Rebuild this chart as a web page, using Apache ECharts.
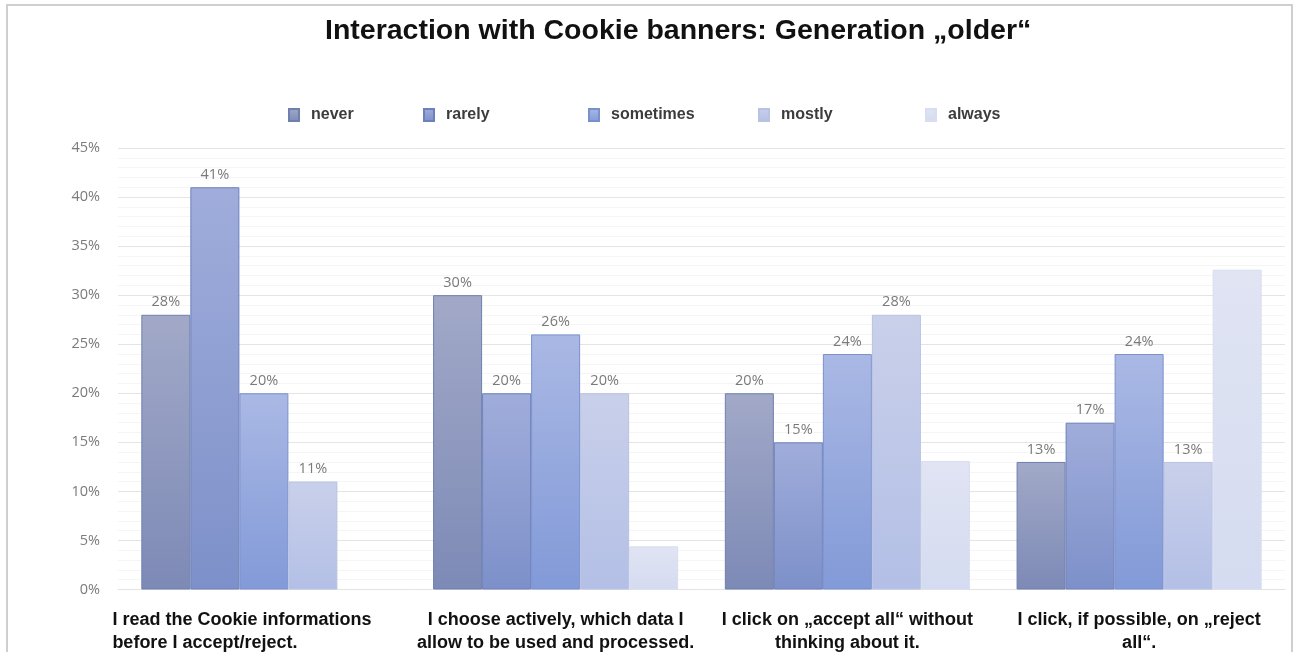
<!DOCTYPE html>
<html>
<head>
<meta charset="utf-8">
<style>
  html, body { margin: 0; padding: 0; background: #ffffff; }
  #chart { width: 1294px; height: 652px; }
</style>
<script src="https://cdn.jsdelivr.net/npm/echarts@6/dist/echarts.min.js"></script>
</head>
<body>
<div id="chart"></div>
<script>
// Statements shown under each group of bars
const categories = [
  'I read the Cookie informations\nbefore I accept/reject.',
  'I choose actively, which data I\nallow to be used and processed.',
  'I click on \u201Eaccept all\u201C without\nthinking about it.',
  'I click, if possible, on \u201Ereject\nall\u201C.'
];

// Answer frequencies (percent of respondents)
const seriesNames = ['never', 'rarely', 'sometimes', 'mostly', 'always'];
const neverVals     = [28, 30, 20, 13];
const rarelyVals    = [41, 20, 15, 17];
const sometimesVals = [20, 26, 24, 24];
const mostlyVals    = [11, 20, 28, 13];
const alwaysVals    = [null, 4.4, 13.1, 32.6];

const yTicks = [0, 5, 10, 15, 20, 25, 30, 35, 40, 45];

// Bar fills: lighter, greyer at the top, more saturated at the base
const fills = [
  { top: '#a2a9c8', bottom: '#7d8ab6', border: '#6f7fae' },
  { top: '#a0addb', bottom: '#7d90c9', border: '#6d80bb' },
  { top: '#aab8e4', bottom: '#829ad8', border: '#7a90cc' },
  { top: '#c9d0ea', bottom: '#b3bfe6', border: '#b8c2e2' },
  { top: '#e0e4f3', bottom: '#d5dbf0', border: '#d8def0' }
];
const valueSets = [neverVals, rarelyVals, sometimesVals, mostlyVals, alwaysVals];
const showLabels = [true, true, true, true, false];

function grad(f) {
  return new echarts.graphic.LinearGradient(0, 0, 0, 1, [
    { offset: 0, color: f.top },
    { offset: 1, color: f.bottom }
  ]);
}

const series = seriesNames.map((name, i) => ({
  name: name,
  type: 'bar',
  data: valueSets[i],
  barGap: '0%',
  barCategoryGap: '16%',
  itemStyle: {
    color: grad(fills[i]),
    borderColor: fills[i].border,
    borderWidth: 1
  },
  label: {
    show: showLabels[i],
    position: 'top',
    distance: 5,
    color: '#7a7a7a',
    fontFamily: 'Open Sans',
    fontSize: 14.5,
    formatter: p => Math.round(p.value) + '%'
  },
  emphasis: { disabled: true }
}));

// One legend block per series so each entry sits at its own column
const legendLefts = [283, 418, 583, 753, 920];
const legends = seriesNames.map((name, i) => ({
  data: [name],
  left: legendLefts[i],
  top: 102,
  icon: 'rect',
  itemWidth: 10,
  itemHeight: 12,
  selectedMode: false,
  textStyle: {
    color: '#3c3c3c',
    fontFamily: 'Liberation Sans',
    fontWeight: 'bold',
    fontSize: 16,
    padding: [0, 0, 0, 7]
  }
}));

const chart = echarts.init(document.getElementById('chart'), null, { renderer: 'canvas' });

chart.setOption({
  backgroundColor: '#ffffff',
  animation: false,
  title: {
    text: 'Interaction with Cookie banners: Generation \u201Eolder\u201C',
    left: 320,
    top: 12,
    textStyle: {
      fontFamily: 'Liberation Sans',
      fontWeight: 'bold',
      fontSize: 28.5,
      color: '#111111'
    }
  },
  legend: legends,
  grid: { left: 118, right: 9, top: 148, bottom: 61 },
  xAxis: {
    type: 'category',
    data: categories,
    axisTick: { show: false },
    axisLine: { show: true, lineStyle: { color: '#e3e3e3' } },
    axisLabel: {
      interval: 0,
      margin: 19,
      formatter: (v, idx) => {
        const lines = v.split('\n');
        const key = idx === 0 ? 'l' : 'c';
        return lines.map(s => '{' + key + '|' + s + '}').join('\n');
      },
      rich: {
        l: {
          width: 303,
          align: 'left',
          fontFamily: 'Liberation Sans',
          fontWeight: 'bold',
          fontSize: 18,
          lineHeight: 23,
          color: '#111111'
        },
        c: {
          align: 'center',
          fontFamily: 'Liberation Sans',
          fontWeight: 'bold',
          fontSize: 18,
          lineHeight: 23,
          color: '#111111'
        }
      }
    }
  },
  yAxis: {
    type: 'value',
    min: yTicks[0],
    max: yTicks[yTicks.length - 1],
    interval: yTicks[1] - yTicks[0],
    axisLine: { show: false },
    axisTick: { show: false },
    axisLabel: {
      margin: 18,
      color: '#7a7a7a',
      fontFamily: 'Open Sans',
      fontSize: 14.5,
      formatter: '{value}%'
    },
    splitLine: { lineStyle: { color: '#e4e4e4', width: 1 } },
    minorSplitLine: { show: true, lineStyle: { color: '#f5f5f5', width: 1 } },
    minorTick: { show: false, splitNumber: 5 }
  },
  graphic: [{
    type: 'rect',
    shape: { x: 7, y: 5, width: 1285, height: 700 },
    style: { fill: 'none', stroke: '#cfcfcf', lineWidth: 2 },
    silent: true,
    z: 100
  }],
  series: series
});
</script>
</body>
</html>
